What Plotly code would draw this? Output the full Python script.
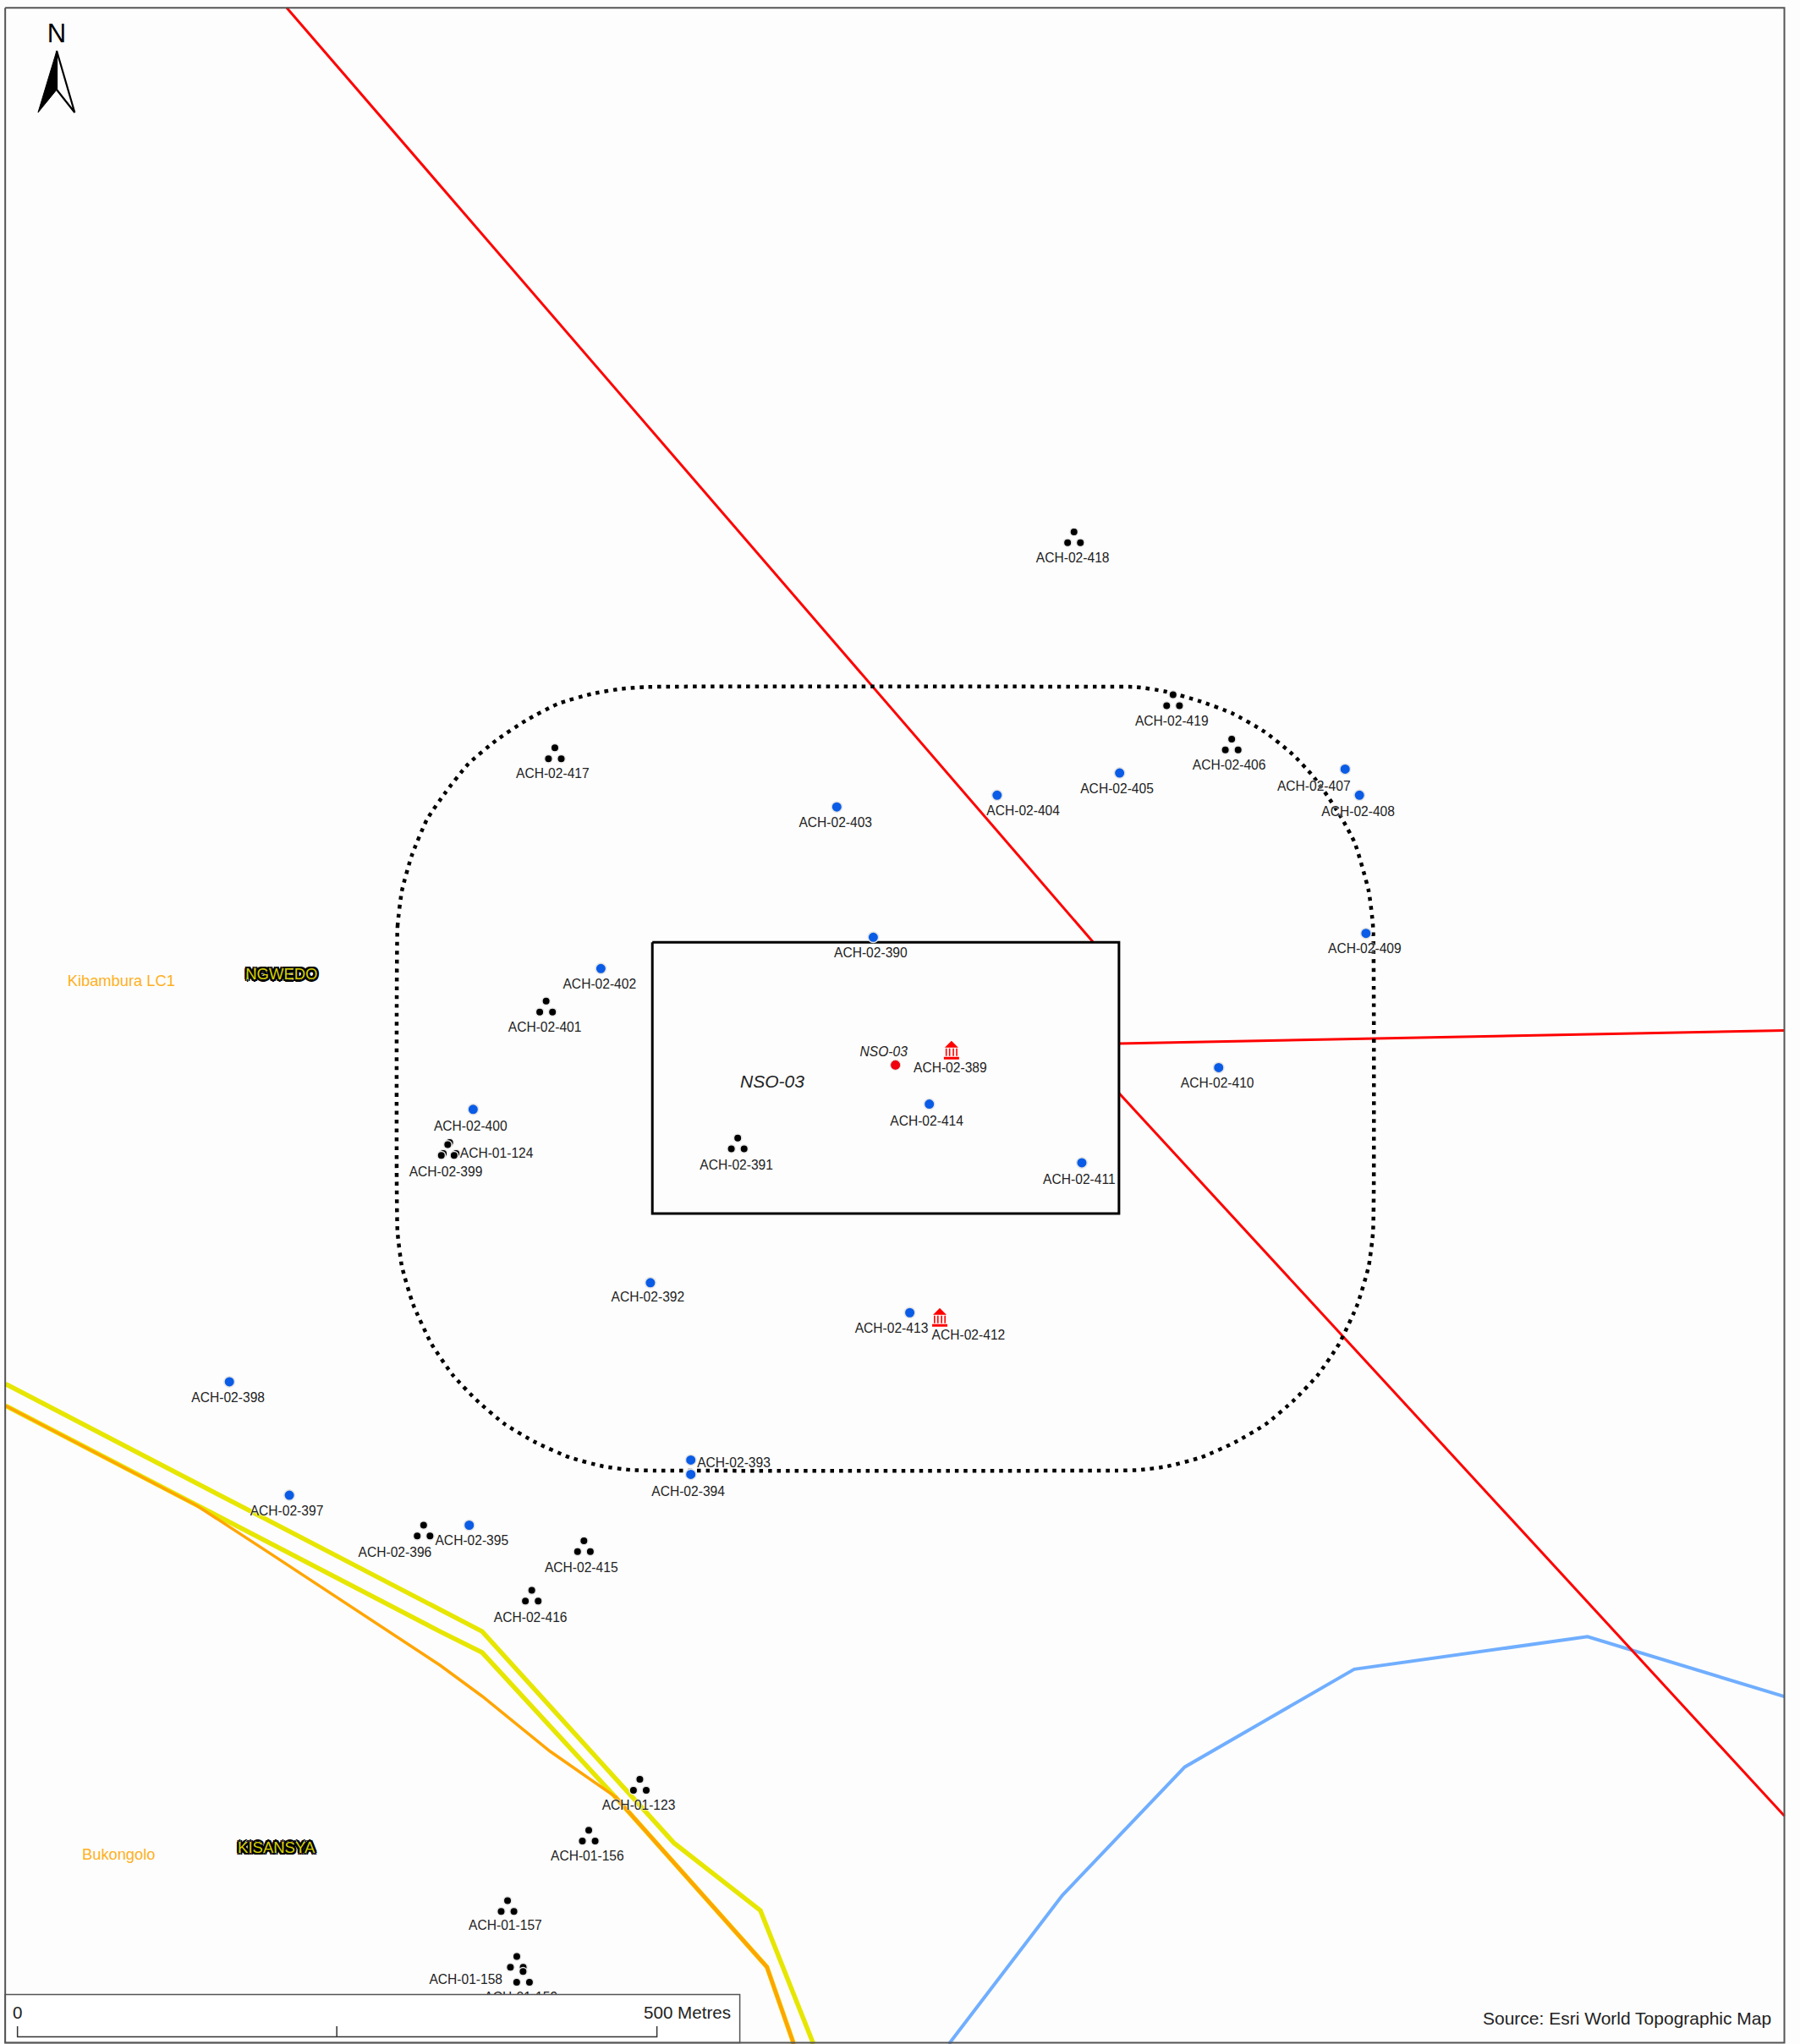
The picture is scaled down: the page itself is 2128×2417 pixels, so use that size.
"""Site map around NSO-03: boreholes, structures, power lines and rivers."""

import plotly.graph_objects as go

# Map coordinates (1381 x 1568 grid)
FRAME_X = [4, 1369, 1369, 4, 4]
FRAME_Y = [6, 6, 1567, 1567, 6]

# Red power lines
red_a_x = [220, 838.5, 858, 1369]
red_a_y = [6, 722.5, 838, 1393]
red_b_x = [858, 1369]
red_b_y = [800.5, 790.5]

# River
river_x = [728, 815, 909, 1039, 1218, 1369]
river_y = [1568, 1454, 1355.5, 1280.5, 1255.5, 1301.5]

# Roads
yellow_a_x = [4.3, 337.5, 369.9, 517, 583.4, 624.1]
yellow_a_y = [1061.7, 1234.8, 1251.5, 1413.7, 1465.6, 1568]
yellow_b_x = [4.3, 151.4, 337.5, 369.9, 471.6, 588.4, 609]
yellow_b_y = [1078.4, 1155.2, 1251.5, 1267.7, 1378, 1508.9, 1568]
orange_x = [4.3, 151.4, 207.7, 337.5, 369.9, 421.9, 471.6]
orange_y = [1078.4, 1155.2, 1192, 1277.4, 1301.2, 1343.4, 1378]
orange_wide_x = [471.6, 588.4, 609]
orange_wide_y = [1378, 1508.9, 1568]

# Dotted buffer round the site
buffer_x = [
    304.4, 305, 308.3, 315.8, 327.7, 341.8, 359.1, 380.7, 403.5, 428.3, 454.3, 475.9, 495.4,
    843.7, 871.8, 893.5, 919.4, 945.4, 970.3, 991.8, 1007, 1018.9, 1029.8, 1039.5, 1050.1, 1053.4, 1054,
    1054, 1053.4, 1050.1, 1041.5, 1027.4, 1011.2, 992.8, 971.1, 947.4, 921.4, 895.5, 873.8, 856.5,
    501.9, 484.6, 462.9, 437, 411, 387.3, 365.6, 347.2, 331, 316.9, 308.3, 305, 304.4, 304.4,
]
buffer_y = [
    765.8, 710.6, 683.6, 656.6, 628.4, 607.9, 586.2, 567.9, 552.7, 539.8, 532.2, 528.5, 527,
    526.8, 527, 530.3, 537.5, 547.2, 561.4, 578.7, 595, 611.2, 628.4, 646.8, 683.6, 710.6, 765.8,
    910.7, 945.4, 971.3, 1000.5, 1030.8, 1054.6, 1074.1, 1092.5, 1106.5, 1118, 1124.9, 1127.7, 1128.1,
    1128.1, 1127.7, 1124.9, 1118, 1106.5, 1092.5, 1074.1, 1054.6, 1030.8, 1000.5, 971.3, 945.4, 910.7, 765.8,
]

# Site box
site_x = [500.5, 858.5, 858.5, 500.5, 500.5]
site_y = [722.8, 722.8, 931, 931, 722.8]

# Blue points
blue_names = [
    "ACH-02-403", "ACH-02-404", "ACH-02-405", "ACH-02-407", "ACH-02-408", "ACH-02-409",
    "ACH-02-390", "ACH-02-402", "ACH-02-400", "ACH-02-414", "ACH-02-410", "ACH-02-411",
    "ACH-02-392", "ACH-02-413", "ACH-02-398", "ACH-02-393", "ACH-02-394", "ACH-02-397",
    "ACH-02-395",
]
blue_x = [642, 765, 859, 1032, 1043, 1048, 670, 461, 363, 713, 935, 830, 499, 698, 176, 530, 530, 222, 360]
blue_y = [619, 610, 593, 590, 610, 716, 719, 743, 851, 847, 819, 892, 984, 1007, 1060, 1120, 1131, 1147, 1170]
blue_label_x = [641, 785, 857, 1008, 1042, 1047, 668, 460, 361, 711, 934, 828, 497, 684, 175, 563, 528, 220, 362]
blue_label_y = [631, 622, 605, 603, 623, 728, 731, 755, 864, 860, 831, 905, 995, 1019, 1072, 1122, 1144, 1159, 1182]

# Triple-dot points (position of the top dot)
triple_names = [
    "ACH-02-418", "ACH-02-419", "ACH-02-406", "ACH-02-417", "ACH-02-401", "ACH-01-124",
    "ACH-02-399", "ACH-02-391", "ACH-02-396", "ACH-02-415", "ACH-02-416", "ACH-01-123",
    "ACH-01-156", "ACH-01-157", "ACH-01-158", "ACH-01-159",
]
triple_x = [824, 900, 945, 425.7, 419, 345, 343.5, 566, 325, 448, 408, 490.9, 451.7, 389.4, 396.5, 401.3]
triple_y = [408, 533, 567, 573.7, 768, 876.5, 878, 873, 1170, 1182, 1220, 1365, 1404, 1458, 1500.9, 1512.4]
triple_label_x = [823, 899, 943, 424, 418, 381, 342, 565, 303, 446, 407, 490, 450.6, 387.7, 357.4, 399.6]
triple_label_y = [428, 553, 587, 593.2, 788, 885, 899, 894, 1191, 1203, 1241, 1385, 1424, 1477, 1518.5, 1532]

# Museum icons
museum_names = ["ACH-02-389", "ACH-02-412"]
museum_x = [730, 721]
museum_y = [805.5, 1010.5]
museum_label_x = [729, 743]
museum_label_y = [819, 1024]

# NSO-03 point
nso_x = [687]
nso_y = [817]

# North arrow
arrow_left_x = [43.5, 29.2, 43.5, 43.5]
arrow_left_y = [38.9, 86.3, 68.8, 38.9]
arrow_right_x = [43.5, 57.3, 43.5, 43.5]
arrow_right_y = [38.9, 86.3, 68.8, 38.9]

# Scale bar
scale_box_x = [4, 567.6]
scale_box_y = [1530, 1567]
scale_x = [13.4, 258.4, 504]
scale_base_y = 1562.5
scale_top_y = 1554.3

FONT = "Liberation Sans, Arial, sans-serif"
LABEL_SHADOW = "0 0 2px #fff, 0 0 2px #fff"
DARK_HALO = (
    "2px 2px 0 #000, -2px -2px 0 #000, 2px -2px 0 #000, -2px 2px 0 #000, "
    "0 2.5px 0 #000, 0 -2.5px 0 #000, 2.5px 0 0 #000, -2.5px 0 0 #000"
)

# Offset of the two lower dots from the top dot
TRIPLE_DX = 4.9
TRIPLE_DY = 8.3

# Labels sit slightly lower than the picture's reading once rendered
LABEL_DY = 0.8

fig = go.Figure()


def add_line(x, y, color, width, **line_kw):
    fig.add_trace(go.Scatter(x=x, y=y, mode="lines", line=dict(color=color, width=width, **line_kw),
                             hoverinfo="skip", showlegend=False))


def add_labels(x, y, text, size=15.6, color="#222222", shadow=LABEL_SHADOW, style="normal"):
    fig.add_trace(go.Scatter(
        x=x, y=[v + LABEL_DY for v in y], mode="text", text=text, textposition="middle center",
        textfont=dict(family=FONT, size=size, color=color, shadow=shadow, style=style),
        hoverinfo="skip", showlegend=False,
    ))


add_line(river_x, river_y, "#70AEFF", 4)
add_line(yellow_a_x, yellow_a_y, "#E6E600", 5.5)
add_line(yellow_b_x, yellow_b_y, "#E6E600", 5.5)
add_line(orange_x, orange_y, "#FFA500", 3.5)
add_line(orange_wide_x, orange_wide_y, "#FFA500", 4.5)
add_line(red_a_x[:2], red_a_y[:2], "#FF0000", 3)
add_line(red_a_x[2:], red_a_y[2:], "#FF0000", 3)
add_line(red_b_x, red_b_y, "#FF0000", 3)

# The box is filled so it hides the power lines running under it
fig.add_trace(go.Scatter(x=site_x, y=site_y, mode="lines", fill="toself", fillcolor="#FDFDFD",
                         line=dict(color="#000000", width=3), hoverinfo="skip", showlegend=False))
add_line(buffer_x, buffer_y, "#000000", 4.5, dash="4.5px,6px", shape="spline", smoothing=0.5)

# Triple dots
dots_x, dots_y = [], []
for tx, ty in zip(triple_x, triple_y):
    dots_x += [tx, tx - TRIPLE_DX, tx + TRIPLE_DX]
    dots_y += [ty, ty + TRIPLE_DY, ty + TRIPLE_DY]
fig.add_trace(go.Scatter(x=dots_x, y=dots_y, mode="markers",
                         marker=dict(size=9.5, color="#000000", line=dict(color="#E8E8E8", width=1.5)),
                         hoverinfo="skip", showlegend=False))
fig.add_trace(go.Scatter(x=blue_x, y=blue_y, mode="markers",
                         marker=dict(size=12.5, color="#0A5CE6", line=dict(color="#E4E4E4", width=1.5)),
                         hoverinfo="skip", showlegend=False))
fig.add_trace(go.Scatter(x=nso_x, y=nso_y, mode="markers",
                         marker=dict(size=12, color="#F0000F", line=dict(color="#E4E4E4", width=1)),
                         hoverinfo="skip", showlegend=False))

add_labels(blue_label_x, blue_label_y, blue_names)
add_labels(triple_label_x, triple_label_y, triple_names)
add_labels(museum_label_x, museum_label_y, museum_names)
add_labels([678], [807], ["NSO-03"], style="italic")
add_labels([592.5], [830], ["NSO-03"], size=21, style="italic")
add_labels([93], [752.5], ["Kibambura LC1"], size=18.3, color="#FFB020", shadow="none")
add_labels([91], [1423], ["Bukongolo"], size=18.3, color="#FFB020", shadow="none")
add_labels([216], [747.5], ["NGWEDO"], size=18.5, color="#D4D000", shadow=DARK_HALO)
add_labels([212], [1417.5], ["KISANSYA"], size=18.5, color="#D4D000", shadow=DARK_HALO)

# North arrow
fig.add_trace(go.Scatter(x=arrow_left_x, y=arrow_left_y, mode="lines", fill="toself", fillcolor="#000000",
                         line=dict(color="#000000", width=1), hoverinfo="skip", showlegend=False))
fig.add_trace(go.Scatter(x=arrow_right_x, y=arrow_right_y, mode="lines", fill="toself", fillcolor="#FFFFFF",
                         line=dict(color="#000000", width=2.2), hoverinfo="skip", showlegend=False))
add_labels([43.5], [26.5], ["N"], size=31, color="#000000", shadow="none")

# Museum icon, in pixels round its anchor (positive y is up)
MUSEUM_PATH = (
    "M-8,3 L0,11 L8,3 Z "
    "M-7,2 H-5.4 V-7 H-7 Z M-3,2 H-1.4 V-7 H-3 Z M1.4,2 H3 V-7 H1.4 Z M5.4,2 H7 V-7 H5.4 Z "
    "M-9,-8 H9 V-11 H-9 Z"
)
for mx, my in zip(museum_x, museum_y):
    fig.add_shape(type="path", xref="x", yref="y", xsizemode="pixel", ysizemode="pixel",
                  xanchor=mx, yanchor=my, path=MUSEUM_PATH, fillcolor="#FF0000", line_width=0)

# Scale box sits over the map and clips whatever runs under it
fig.add_shape(type="rect", xref="x", yref="y", x0=scale_box_x[0], x1=scale_box_x[1],
              y0=scale_box_y[0], y1=scale_box_y[1], fillcolor="#FFFFFF", line=dict(color="#555555", width=1.5))
scale_path = f"M{scale_x[0]},{scale_top_y} V{scale_base_y} H{scale_x[2]} V{scale_top_y} M{scale_x[1]},{scale_top_y} V{scale_base_y}"
fig.add_shape(type="path", xref="x", yref="y", path=scale_path, line=dict(color="#333333", width=1.5))
fig.add_shape(type="path", xref="x", yref="y",
              path="M" + " L".join(f"{x},{y}" for x, y in zip(FRAME_X, FRAME_Y)),
              line=dict(color="#555555", width=2))

for tx, ty, txt, fs in [(13, 1543.7, "0", 20.6), (527.3, 1543.7, "500 Metres", 20.6),
                        (1248.5, 1548.5, "Source: Esri World Topographic Map", 21)]:
    fig.add_annotation(x=tx, y=ty, text=txt, showarrow=False, xanchor="center", yanchor="middle",
                       font=dict(family=FONT, size=fs, color="#222222"))

fig.update_layout(
    width=2128, height=2417,
    margin=dict(l=0, r=0, t=0, b=0),
    paper_bgcolor="#FFFFFF", plot_bgcolor="#FDFDFD",
    xaxis=dict(range=[0, 1381], visible=False, fixedrange=True),
    yaxis=dict(range=[1568, 0], visible=False, fixedrange=True),
    showlegend=False,
)
fig.write_html("out.html", config={"displayModeBar": False},
               post_script="document.body.style.margin='0';")
